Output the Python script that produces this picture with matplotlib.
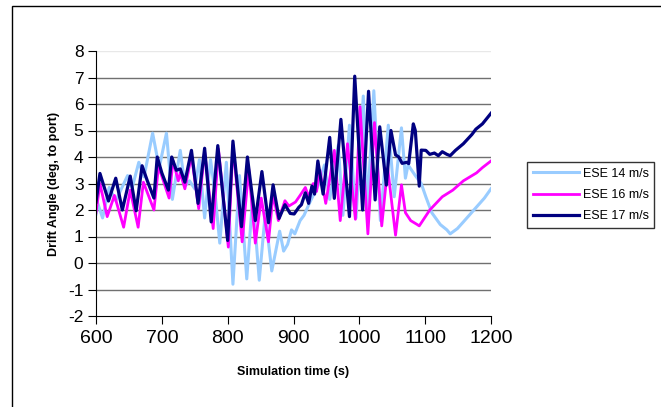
import matplotlib
matplotlib.use("Agg")
import matplotlib.pyplot as plt
from matplotlib.patches import Rectangle

plt.rcParams['font.family'] = ['Liberation Sans', 'DejaVu Sans']
plt.rcParams['axes.unicode_minus'] = False

# ESE 14 m/s (light blue)
t14 = [600, 602, 610, 620, 630, 648, 655, 665, 673, 686, 696, 707, 716, 728, 735, 742, 750, 757,
       765, 774, 781, 788, 798, 808, 818, 829, 838, 848, 857, 867, 879, 885, 891, 897, 902, 910,
       916, 925, 931, 937, 947, 955, 968, 975, 985, 995, 1006, 1012, 1022, 1032, 1044, 1053, 1064,
       1070, 1074, 1085, 1094, 1101, 1110, 1123, 1133, 1138, 1149, 1158, 1174, 1190, 1200]
v14 = [1.85, 2.3, 1.7, 2.85, 2.35, 3.3, 2.85, 3.8, 3.25, 4.9, 3.6, 4.9, 2.4, 4.25, 2.9, 3.1, 2.8, 3.9,
       1.7, 3.9, 2.6, 0.75, 3.8, -0.8, 3.3, -0.6, 2.5, -0.65, 1.85, -0.3, 1.2, 0.45, 0.7, 1.25, 1.1, 1.6,
       1.8, 2.3, 2.6, 2.9, 3.7, 2.4, 4.45, 1.8, 5.2, 1.7, 6.3, 2.0, 6.5, 1.6, 5.2, 2.5, 5.1,
       3.2, 3.7, 3.3, 3.0, 2.5, 1.9, 1.45, 1.25, 1.1, 1.3, 1.55, 2.0, 2.45, 2.8]

# ESE 16 m/s (magenta)
t16 = [600, 606, 617, 628, 642, 652, 664, 672, 688, 695, 711, 717, 725, 728, 735, 745, 756, 765,
       778, 786, 801, 808, 822, 832, 842, 851, 862, 869, 877, 887, 893, 903, 910, 918, 923, 930,
       935, 940, 949, 962, 971, 982, 994, 1001, 1013, 1023, 1034, 1043, 1055, 1064, 1070, 1078,
       1088, 1091, 1107, 1126, 1142, 1158, 1178, 1187, 1200]
v16 = [1.9, 3.0, 1.75, 2.55, 1.35, 2.75, 1.35, 3.05, 2.0, 3.65, 2.45, 3.85, 3.1, 3.4, 2.8, 4.05, 2.05, 4.2,
       1.3, 4.3, 0.6, 4.45, 0.8, 3.55, 0.75, 2.45, 0.8, 2.6, 1.6, 2.35, 2.15, 2.3, 2.55, 2.85, 2.5, 3.0,
       2.7, 3.5, 2.25, 4.25, 1.6, 4.5, 1.65, 5.9, 1.1, 5.3, 1.4, 3.6, 1.05, 2.95, 1.9, 1.6,
       1.45, 1.4, 2.0, 2.5, 2.75, 3.1, 3.4, 3.6, 3.85]

# ESE 17 m/s (navy)
t17 = [600, 606, 619, 630, 640, 652, 661, 670, 678, 688, 693, 700, 710, 715, 722, 728, 735, 745,
       755, 765, 775, 785, 800, 808, 821, 830, 842, 852, 862, 869, 878, 887, 895, 901, 908, 912,
       918, 923, 928, 932, 937, 945, 955, 962, 972, 985, 993, 1005, 1014, 1024, 1031, 1041, 1048,
       1055, 1060, 1065, 1072, 1075, 1082, 1085, 1091, 1094, 1101, 1107, 1114, 1120, 1126, 1133,
       1138, 1146, 1158, 1171, 1177, 1187, 1200]
v17 = [2.3, 3.38, 2.34, 3.2, 2.0, 3.28, 1.97, 3.67, 3.1, 2.45, 4.0, 3.4, 2.75, 4.0, 3.5, 3.55, 3.05, 4.25,
       2.25, 4.33, 1.55, 4.43, 0.85, 4.6, 1.37, 4.0, 1.6, 3.45, 1.52, 2.95, 1.68, 2.2, 1.87, 1.85, 2.1, 2.2,
       2.65, 2.25, 2.9, 2.6, 3.85, 2.6, 4.74, 2.44, 5.42, 1.75, 7.05, 2.0, 6.48, 2.38, 5.14, 2.94, 5.0,
       4.08, 4.0, 3.76, 3.8, 3.75, 5.25, 5.0, 2.9, 4.26, 4.25, 4.1, 4.15, 4.05, 4.2, 4.1,
       4.05, 4.25, 4.5, 4.85, 5.05, 5.25, 5.65]

labels = ["ESE 14 m/s", "ESE 16 m/s", "ESE 17 m/s"]
colors = ["#99CCFF", "#FF00FF", "#000080"]

fig = plt.figure(figsize=(6.61, 4.07), dpi=100)
fig.patches.append(Rectangle((12 / 661, -0.1), 2.0, 1.1 - 6 / 407, transform=fig.transFigure,
                             fill=False, edgecolor="black", linewidth=1.0))
ax = fig.add_axes([96 / 661, 1 - 316 / 407, 395 / 661, 265 / 407])

for yv in range(-1, 8):
    ax.axhline(yv, color="#707070", linewidth=1.0, zorder=0)
ax.axhline(8, color="#e8e8e8", linewidth=1.0, zorder=0)

ax.plot(t14, v14, color=colors[0], linewidth=2.2, label=labels[0])
ax.plot(t16, v16, color=colors[1], linewidth=2.0, label=labels[1])
ax.plot(t17, v17, color=colors[2], linewidth=2.3, label=labels[2])

ax.set_xlim(600, 1200)
ax.set_ylim(-2, 8)
ax.set_xticks(range(600, 1201, 100))
ax.set_yticks(range(-2, 9))
ax.spines['top'].set_visible(False)
ax.spines['right'].set_visible(False)
ax.tick_params(axis='x', direction='out', length=6, labelsize=14, pad=4)
ax.tick_params(axis='y', direction='out', length=6, labelsize=12.5, pad=3)
ax.set_xlabel("Simulation time (s)", fontsize=9, fontweight='bold', labelpad=14)
ax.set_ylabel("Drift Angle (deg, to port)", fontsize=9, fontweight='bold', labelpad=6)

leg = ax.legend(loc='upper left', bbox_to_anchor=(527 / 661, 1 - 162 / 407), bbox_transform=fig.transFigure,
                fontsize=9, frameon=True, fancybox=False, edgecolor="black", handlelength=3.7,
                handletextpad=0.3, borderpad=0.45, labelspacing=0.75, borderaxespad=0)
leg.get_frame().set_linewidth(1.0)

fig.savefig("out.png", dpi=100)
